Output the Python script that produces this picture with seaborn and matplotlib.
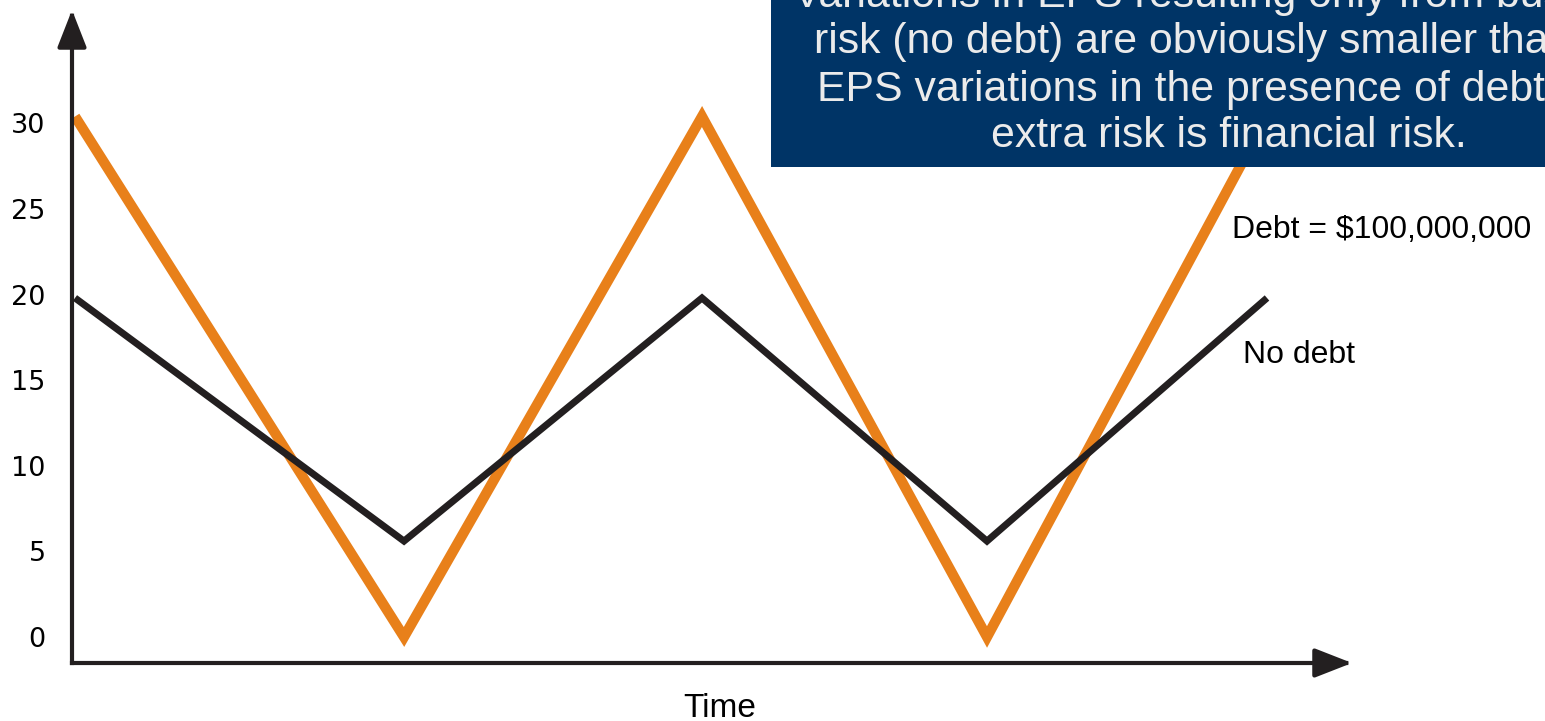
import matplotlib
matplotlib.use("Agg")
import matplotlib.pyplot as plt
from matplotlib.patches import Rectangle
import seaborn as sns
import pandas as pd

# Time positions of the turning points (arbitrary time units)
periods = [0.0, 3.29, 6.27, 9.12, 11.92]
# Earnings per share over the cycle
eps_debt = [30.4, 0.0, 30.4, 0.0, 30.4]
eps_no_debt = [19.8, 5.6, 19.8, 5.6, 19.8]
y_ticks = [0, 5, 10, 15, 20, 25, 30]

label_debt = "Debt = $100,000,000"
label_no_debt = "No debt"
x_title = "Time"
note_lines = [
    "Variations in EPS resulting only from business",
    "risk (no debt) are obviously smaller than the",
    "EPS variations in the presence of debt. The",
    "extra risk is financial risk.",
]

ORANGE = "#E8801A"
INK = "#231F20"
NAVY = "#003466"
NOTE_TEXT = "#EBEBEB"

sns.set_theme(style="white")
plt.rcParams["font.family"] = ["Liberation Sans", "DejaVu Sans"]

W, H = 1545, 721
fig = plt.figure(figsize=(W / 100, H / 100), dpi=100)
fig.patch.set_facecolor("white")


def fx(px):
    return px / W


def fy(py):
    return 1 - py / H


# Axes area between the two arrow axes
ax = fig.add_axes([fx(72), fy(663), fx(1352) - fx(72), fy(10) - fy(663)])
ax.set_facecolor("none")
ax.set_xlim(-0.03, 12.77)
ax.set_ylim(-1.52, 36.62)

df_debt = pd.DataFrame({"t": periods, "eps": eps_debt})
df_none = pd.DataFrame({"t": periods, "eps": eps_no_debt})

sns.lineplot(data=df_debt, x="t", y="eps", ax=ax, color=ORANGE, lw=7.4,
             sort=False, estimator=None, solid_joinstyle="miter",
             solid_capstyle="butt", clip_on=False, zorder=2)
sns.lineplot(data=df_none, x="t", y="eps", ax=ax, color=INK, lw=5.0,
             sort=False, estimator=None, solid_joinstyle="miter",
             solid_capstyle="butt", clip_on=False, zorder=3)

for s in ax.spines.values():
    s.set_visible(False)
ax.set_xticks([])
ax.set_yticks(y_ticks)
ax.set_yticklabels([str(v) for v in y_ticks], fontfamily="DejaVu Sans",
                   fontsize=19.5, color="black")
ax.tick_params(axis="y", length=0, pad=19)
ax.set_xlabel("")
ax.set_ylabel("")
ax.grid(False)

# Arrow-headed axes meeting at the origin corner
arrow_kw = dict(arrowstyle="-|>,head_length=1.15,head_width=0.45",
                color=INK, lw=3.0, shrinkA=0, shrinkB=0, mutation_scale=20,
                capstyle="projecting")
ax.annotate("", xy=(1, 0), xycoords="axes fraction", xytext=(0, 0),
            textcoords="axes fraction", arrowprops=arrow_kw, zorder=4)
ax.annotate("", xy=(0, 1), xycoords="axes fraction", xytext=(0, 0),
            textcoords="axes fraction", arrowprops=arrow_kw, zorder=4)

# Series labels and axis title
ax.text(fx(1232), fy(238), label_debt, transform=fig.transFigure,
        fontsize=23, color="black", ha="left", va="baseline")
ax.text(fx(1243), fy(363), label_no_debt, transform=fig.transFigure,
        fontsize=23, color="black", ha="left", va="baseline")
ax.text(fx(720), fy(717), x_title, transform=fig.transFigure,
        fontsize=24, color="black", ha="center", va="baseline")

# Explanatory note box
box = Rectangle((fx(771), fy(167)), fx(W + 40) - fx(771), fy(-20) - fy(167),
                transform=fig.transFigure, facecolor=NAVY, edgecolor="none",
                clip_on=False, zorder=10)
ax.add_patch(box)
baselines = [6.5, 53.5, 100.5, 147]
for line, base in zip(note_lines, baselines):
    ax.text(fx(1229), fy(base), line, transform=fig.transFigure,
            fontsize=30.8, color=NOTE_TEXT, ha="center", va="baseline",
            zorder=11, clip_on=False)

fig.savefig("out.png", dpi=100, facecolor="white")
